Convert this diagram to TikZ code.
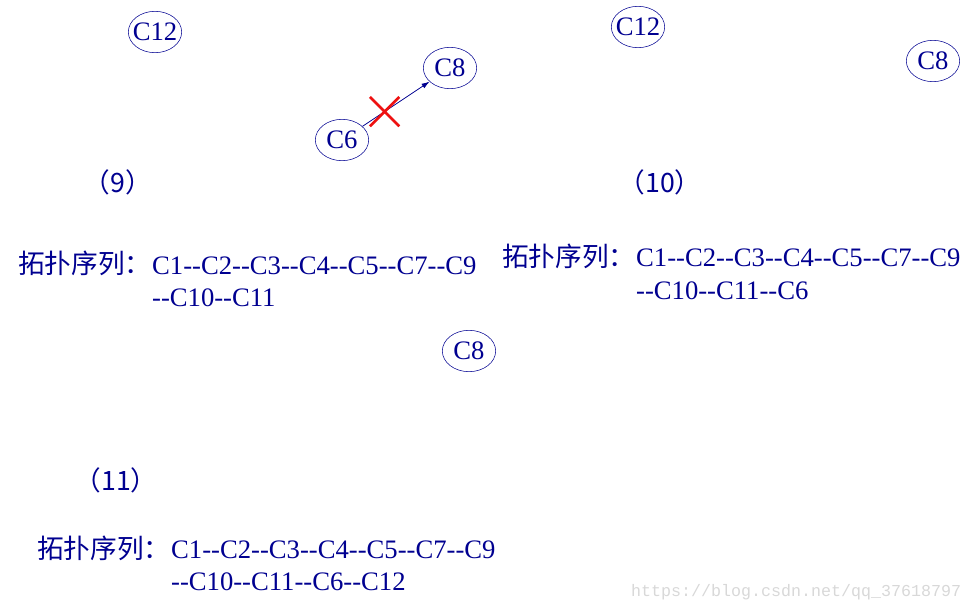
\documentclass[tikz,border=0pt]{standalone}
\usepackage{fontspec}
\setmainfont[Ligatures=TeXOff]{Liberation Serif}
\newfontfamily\cjk{Noto Sans CJK SC}
\newfontfamily\wmfont{Liberation Mono}
\usetikzlibrary{arrows.meta, positioning, shapes.geometric, shapes.misc}
\definecolor{vertexblue}{HTML}{000090}
\definecolor{crossred}{HTML}{EE1111}
\definecolor{markgray}{HTML}{D8D8D8}
\tikzset{
    vertex/.style={draw=vertexblue, ellipse, inner xsep=-2.7pt, inner ysep=0pt, minimum width=40pt, minimum height=31pt, text=vertexblue, font=\fontsize{20}{24}\selectfont},
    steplabel/.style={text=vertexblue, font=\cjk\fontsize{20}{24}\selectfont},
    seqhead/.style={text=vertexblue, anchor=base west, inner sep=0pt, font=\cjk\fontsize{20}{24}\selectfont},
    seqlist/.style={text=vertexblue, anchor=base west, inner sep=0pt, align=left, font=\fontsize{20}{24.5}\selectfont},
    myarrow/.style={-{Latex[length=6pt, width=4pt]}, vertexblue, line width=0.6pt},
    crossmark/.style={draw=crossred, cross out, line width=2pt, minimum size=20pt, inner sep=0pt},
}

\begin{document}
\begin{tikzpicture}[x=0.75pt, y=-0.75pt]
\useasboundingbox (0,0) rectangle (976,613);

% ============================================================
% (9)
% ============================================================
\node[vertex] (c12a) at (155,32) {C12};
\node[vertex] (c8a) at (450,68) {C8};
\node[vertex] (c6) at (342,140) {C6};

\draw[myarrow] (c6) -- (c8a) node[crossmark, pos=0.33] (cut) {};

\node[steplabel] (lab9) at (118,182) {（9）};

\node[seqhead] (head9) at (18,274) {拓扑序列：};
\node[seqlist] (list9) at ([yshift=-24.5pt]head9.base east) {C1--C2--C3--C4--C5--C7--C9\\--C10--C11};

% ============================================================
% (10)
% ============================================================
\node[vertex] (c12b) at (638,27) {C12};
\node[vertex] (c8b) at (933,61) {C8};

\node[steplabel] (lab10) at (660,182) {（10）};

\node[seqhead] (head10) at (502,267) {拓扑序列：};
\node[seqlist] (list10) at ([yshift=-24.5pt]head10.base east) {C1--C2--C3--C4--C5--C7--C9\\--C10--C11--C6};

% ============================================================
% (11)
% ============================================================
\node[vertex] (c8c) at (469,351) {C8};

\node[steplabel] (lab11) at (116,480) {（11）};

\node[seqhead] (head11) at (37,558) {拓扑序列：};
\node[seqlist] (list11) at ([yshift=-24.5pt]head11.base east) {C1--C2--C3--C4--C5--C7--C9\\--C10--C11--C6--C12};

% watermark
\node[text=markgray, anchor=east, font=\wmfont\fontsize{12.5}{15}\selectfont] (mark) at (966,592) {https://blog.csdn.net/qq\_37618797};

\end{tikzpicture}
\end{document}
